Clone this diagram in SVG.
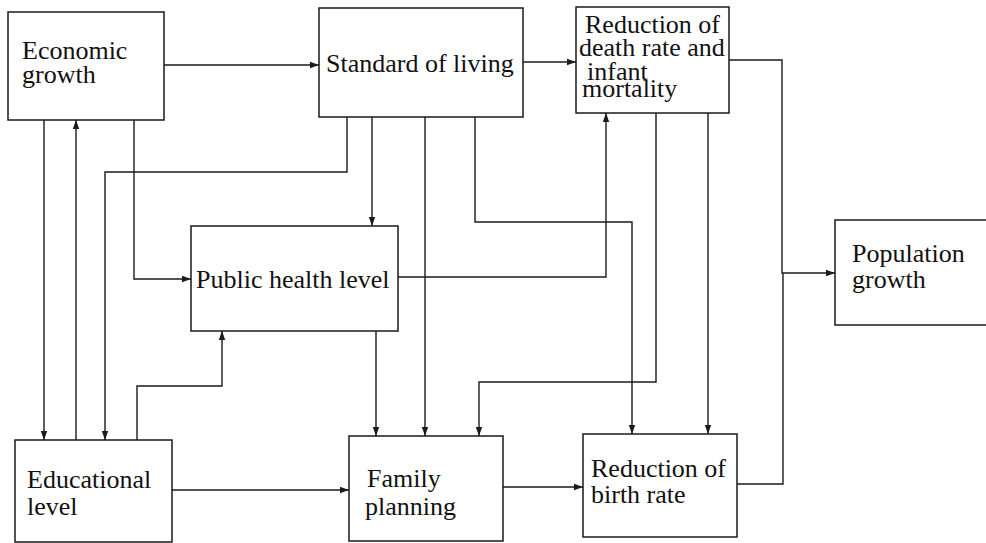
<svg xmlns="http://www.w3.org/2000/svg" width="986" height="543" viewBox="0 0 986 543">
<style>
.box{fill:#fff;stroke:#1a1a1a;stroke-width:1.5}
.t{font-family:"Liberation Serif","Times New Roman",serif;font-size:26px;fill:#111}
.c{fill:none;stroke:#1a1a1a;stroke-width:1.4}
</style>
<defs>
<marker id="a" markerUnits="userSpaceOnUse" markerWidth="10" markerHeight="8" refX="9" refY="4" orient="auto">
<path d="M0,0.8 L9,4 L0,7.2 Z" fill="#1a1a1a"/>
</marker>
</defs>
<rect width="986" height="543" fill="#fff"/>
<g id="connectors">
<path class="c" d="M164,65 H319" marker-end="url(#a)"/>
<path class="c" d="M523,62 H576" marker-end="url(#a)"/>
<path class="c" d="M729,60 H782 V273 H835" marker-end="url(#a)"/>
<path class="c" d="M737,484 H783 V273"/>
<path class="c" d="M44,120 V440" marker-end="url(#a)"/>
<path class="c" d="M76,440 V120" marker-end="url(#a)"/>
<path class="c" d="M134,120 V279 H191" marker-end="url(#a)"/>
<path class="c" d="M347,117 V172 H105 V440" marker-end="url(#a)"/>
<path class="c" d="M372,117 V226" marker-end="url(#a)"/>
<path class="c" d="M425,117 V436" marker-end="url(#a)"/>
<path class="c" d="M475,117 V222 H632 V434" marker-end="url(#a)"/>
<path class="c" d="M398,277 H606 V113" marker-end="url(#a)"/>
<path class="c" d="M376,331 V436" marker-end="url(#a)"/>
<path class="c" d="M137,440 V386 H222 V331" marker-end="url(#a)"/>
<path class="c" d="M172,490 H349" marker-end="url(#a)"/>
<path class="c" d="M656,113 V382 H479 V436" marker-end="url(#a)"/>
<path class="c" d="M708,113 V434" marker-end="url(#a)"/>
<path class="c" d="M503,487 H583" marker-end="url(#a)"/>
</g>
<g id="economic-growth">
<rect class="box" x="8" y="12" width="156" height="108"/>
<text class="t" x="22" y="59">Economic</text>
<text class="t" x="22" y="83">growth</text>
</g>
<g id="standard-of-living">
<rect class="box" x="319" y="8" width="204" height="109"/>
<text class="t" x="326" y="72">Standard of living</text>
</g>
<g id="reduction-death-rate">
<rect class="box" x="576" y="7" width="153" height="106"/>
<text class="t" x="585" y="33">Reduction of</text>
<text class="t" x="579" y="56">death rate and</text>
<text class="t" x="587" y="80">infant</text>
<text class="t" x="582" y="97">mortality</text>
</g>
<g id="public-health-level">
<rect class="box" x="191" y="226" width="207" height="105"/>
<text class="t" x="196" y="288">Public health level</text>
</g>
<g id="population-growth">
<rect class="box" x="835" y="220" width="200" height="105"/>
<text class="t" x="852" y="262">Population</text>
<text class="t" x="852" y="288">growth</text>
</g>
<g id="educational-level">
<rect class="box" x="15" y="440" width="157" height="102"/>
<text class="t" x="27" y="488">Educational</text>
<text class="t" x="27" y="515">level</text>
</g>
<g id="family-planning">
<rect class="box" x="349" y="436" width="154" height="105"/>
<text class="t" x="367" y="487">Family</text>
<text class="t" x="365" y="515">planning</text>
</g>
<g id="reduction-birth-rate">
<rect class="box" x="583" y="434" width="154" height="103"/>
<text class="t" x="591" y="477">Reduction of</text>
<text class="t" x="591" y="503">birth rate</text>
</g>
</svg>
